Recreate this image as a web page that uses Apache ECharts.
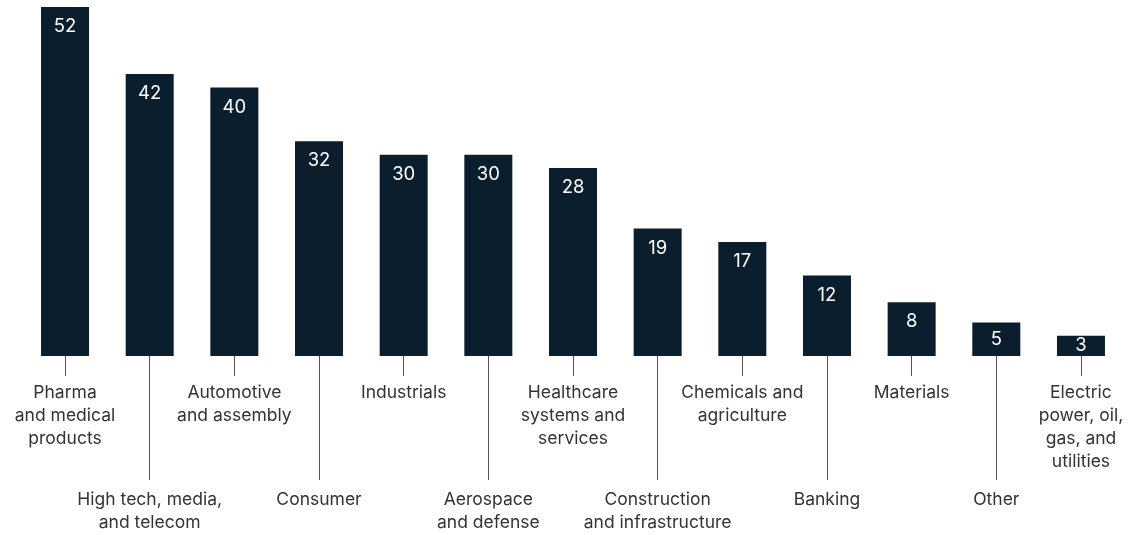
<!DOCTYPE html>
<html>
<head>
<meta charset="utf-8">
<script src="https://cdn.jsdelivr.net/npm/echarts@6/dist/echarts.min.js"></script>
<style>
  html, body { margin: 0; padding: 0; background: #fff; }
  #chart { width: 1141px; height: 535px; }
</style>
</head>
<body>
<div id="chart"></div>
<script>
// sectors, in chart order
const sectors = [
  'Pharma\nand medical\nproducts',
  'High tech, media,\nand telecom',
  'Automotive\nand assembly',
  'Consumer',
  'Industrials',
  'Aerospace\nand defense',
  'Healthcare\nsystems and\nservices',
  'Construction\nand infrastructure',
  'Chemicals and\nagriculture',
  'Banking',
  'Materials',
  'Other',
  'Electric\npower, oil,\ngas, and\nutilities'
];
const counts = [52, 42, 40, 32, 30, 30, 28, 19, 17, 12, 8, 5, 3];

const barColor = '#0a1e2e';
const textColor = '#333';
const tickColor = '#555';
const fontFamily = 'Inter, "Liberation Sans", Arial, sans-serif';

// labels alternate between a short and a long leader line
const isShort = (i) => i % 2 === 0;
const isLong = (i) => i % 2 === 1;

const chart = echarts.init(document.getElementById('chart'));

const baseAxis = {
  type: 'category',
  data: sectors,
  position: 'bottom',
  axisLine: { show: false },
  splitLine: { show: false }
};

const option = {
  animation: false,
  grid: { left: 22.7, right: 17.7, top: 7, bottom: 179 },
  xAxis: [
    Object.assign({}, baseAxis, {
      axisTick: {
        show: true, alignWithLabel: true, interval: isShort,
        length: 20, lineStyle: { color: tickColor, width: 1 }
      },
      axisLabel: {
        interval: isShort, margin: 25, color: textColor,
        fontSize: 17.5, lineHeight: 23, fontFamily: fontFamily, align: 'center'
      }
    }),
    Object.assign({}, baseAxis, {
      axisTick: {
        show: true, alignWithLabel: true, interval: isLong,
        length: 124, lineStyle: { color: tickColor, width: 1 }
      },
      axisLabel: {
        interval: isLong, margin: 132, color: textColor,
        fontSize: 17.5, lineHeight: 23, fontFamily: fontFamily, align: 'center'
      }
    })
  ],
  yAxis: {
    type: 'value', min: 0, max: 52, show: false
  },
  series: [{
    type: 'bar',
    xAxisIndex: 0,
    barWidth: 48,
    itemStyle: { color: barColor },
    label: {
      show: true, position: 'insideTop', distance: 10,
      color: '#fff', fontSize: 18.5, fontFamily: fontFamily
    },
    data: counts.map(v => v < 6
      ? { value: v, label: { position: 'inside' } }
      : v)
  }]
};

chart.setOption(option);
</script>
</body>
</html>
